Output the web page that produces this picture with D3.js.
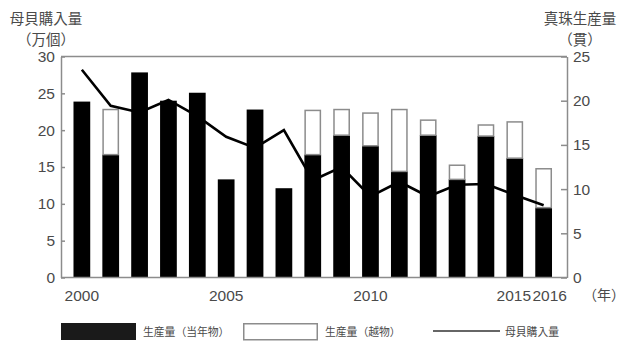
<!DOCTYPE html>
<html>
<head>
<meta charset="utf-8">
<script src="https://cdn.jsdelivr.net/npm/d3@7"></script>
<style>
  html, body { margin: 0; padding: 0; background: #fff; }
  svg { display: block; }
  .num { font-family: "Liberation Sans Narrow", "Arial Narrow", "Liberation Sans", sans-serif; font-size: 15.5px; fill: #4a4a4a; }
  .jp { font-family: "Noto Sans CJK JP", sans-serif; fill: #4a4a4a; }
</style>
</head>
<body>
<svg id="chart" width="625" height="342"></svg>
<script>
// 年
const years = [2000, 2001, 2002, 2003, 2004, 2005, 2006, 2007, 2008,
               2009, 2010, 2011, 2012, 2013, 2014, 2015, 2016];
// 真珠生産量（当年物）, 貫
const pearlCurrent = [19.9, 13.9, 23.2, 20.0, 20.9, 11.1, 19.0, 10.1, 13.9,
                      16.1, 14.9, 12.0, 16.1, 11.1, 16.0, 13.5, 7.9];
// 真珠生産量（越物）, 貫
const pearlCarry = [0, 5.1, 0, 0, 0, 0, 0, 0, 5.0,
                    2.9, 3.7, 7.0, 1.7, 1.6, 1.25, 4.1, 4.4];
// 母貝購入量, 万個
const shellPurchase = [28.2, 23.3, 22.4, 24.1, 21.9, 19.1, 17.6, 20.0, 13.2,
                       15.0, 11.0, 13.0, 11.0, 12.6, 12.7, 11.2, 9.8];
// 軸の目盛
const leftTicks = [0, 5, 10, 15, 20, 25, 30];
const rightTicks = [0, 5, 10, 15, 20, 25];
const yearLabels = [2000, 2005, 2010, 2015, 2016];

const svg = d3.select("#chart");
const plot = { left: 61, right: 567, top: 56.5, bottom: 277.5 };
const axisColor = "#8c8c8c";

const x = d3.scaleBand().domain(years).range([60.5, 565])
  .paddingInner(0.42).paddingOuter(0.45);
const yLeft = d3.scaleLinear().domain([0, 30]).range([plot.bottom, plot.top]);
const yRight = d3.scaleLinear().domain([0, 25]).range([plot.bottom, plot.top]);

const rows = years.map((yr, i) => ({
  year: yr, current: pearlCurrent[i], carry: pearlCarry[i], shells: shellPurchase[i]
}));

// 当年物（黒）
svg.append("g").selectAll("rect").data(rows).join("rect")
  .attr("x", d => x(d.year))
  .attr("width", x.bandwidth())
  .attr("y", d => yRight(d.current))
  .attr("height", d => yRight(0) - yRight(d.current))
  .attr("fill", "#000");

// 越物（白、当年物の上に積み上げ）
svg.append("g").selectAll("rect").data(rows.filter(d => d.carry > 0)).join("rect")
  .attr("x", d => x(d.year) + 0.75)
  .attr("width", x.bandwidth() - 1.5)
  .attr("y", d => yRight(d.current + d.carry))
  .attr("height", d => yRight(d.current) - yRight(d.current + d.carry))
  .attr("fill", "#fff")
  .attr("stroke", "#8c8c8c")
  .attr("stroke-width", 1.5);

// 母貝購入量の折れ線
const line = d3.line()
  .x(d => x(d.year) + x.bandwidth() / 2)
  .y(d => yLeft(d.shells));
svg.append("path").datum(rows)
  .attr("d", line)
  .attr("fill", "none")
  .attr("stroke", "#000")
  .attr("stroke-width", 2.6)
  .attr("stroke-linejoin", "miter");

// 枠（上辺と下辺）
svg.append("line")
  .attr("x1", plot.left).attr("x2", plot.right)
  .attr("y1", plot.top).attr("y2", plot.top)
  .attr("stroke", axisColor).attr("stroke-width", 1.5);
svg.append("line")
  .attr("x1", plot.left).attr("x2", plot.right)
  .attr("y1", plot.bottom).attr("y2", plot.bottom)
  .attr("stroke", axisColor).attr("stroke-width", 1.5);

// 左軸
const gL = svg.append("g").attr("transform", `translate(${plot.left},0)`)
  .call(d3.axisLeft(yLeft).tickValues(leftTicks).tickSizeInner(-4).tickSizeOuter(0).tickPadding(6));
// 右軸
const gR = svg.append("g").attr("transform", `translate(${plot.right},0)`)
  .call(d3.axisRight(yRight).tickValues(rightTicks).tickSizeInner(-6).tickSizeOuter(0).tickPadding(6));
[gL, gR].forEach(g => {
  g.select(".domain").attr("stroke", axisColor).attr("stroke-width", 1.5);
  g.selectAll(".tick line").attr("stroke", axisColor).attr("stroke-width", 1.5);
  g.selectAll(".tick text").attr("class", "num").attr("fill", null);
  g.attr("font-family", null).attr("font-size", null);
});

// 年の目盛
const gX = svg.append("g").attr("transform", `translate(0,${plot.bottom})`)
  .call(d3.axisBottom(x).tickValues(yearLabels).tickSize(0).tickPadding(12.5));
gX.select(".domain").remove();
gX.attr("font-family", null).attr("font-size", null);
gX.selectAll(".tick text").attr("class", "num").attr("fill", null)
  .attr("dx", d => d === 2016 ? 6 : (d === 2015 ? -1 : 0));

svg.append("text").attr("class", "jp")
  .attr("x", 583).attr("y", 300)
  .attr("font-size", 14)
  .text("（年）");

// 軸タイトル（2行）
const titles = [
  { x: 46, lines: ["母貝購入量", "（万個）"] },
  { x: 580, lines: ["真珠生産量", "（貫）"] }
];
const titleBaselines = [24, 45];
svg.append("g").selectAll("text")
  .data(titles.flatMap(d => d.lines.map((t, i) => ({ t, x: d.x, y: titleBaselines[i] }))))
  .join("text")
  .attr("class", "jp")
  .attr("x", d => d.x).attr("y", d => d.y)
  .attr("text-anchor", "middle")
  .attr("font-size", 14.5)
  .attr("fill", "#555")
  .text(d => d.t);

// 凡例
const legend = svg.append("g");
legend.append("rect").attr("x", 61).attr("y", 323).attr("width", 75).attr("height", 17)
  .attr("fill", "#1a1a1a");
legend.append("text").attr("class", "jp").attr("x", 143).attr("y", 335.5)
  .attr("font-size", 10.8).attr("fill", "#6a6a6a").text("生産量（当年物）");
legend.append("rect").attr("x", 243.75).attr("y", 323.75).attr("width", 73.5).attr("height", 16)
  .attr("fill", "#fff").attr("stroke", "#8c8c8c").attr("stroke-width", 1.5);
legend.append("text").attr("class", "jp").attr("x", 325).attr("y", 335.5)
  .attr("font-size", 10.8).attr("fill", "#6a6a6a").text("生産量（越物）");
legend.append("line").attr("x1", 433).attr("x2", 500).attr("y1", 331).attr("y2", 331)
  .attr("stroke", "#333").attr("stroke-width", 1.6);
legend.append("text").attr("class", "jp").attr("x", 505).attr("y", 335.5)
  .attr("font-size", 10.8).attr("fill", "#6a6a6a").text("母貝購入量");
</script>
</body>
</html>
